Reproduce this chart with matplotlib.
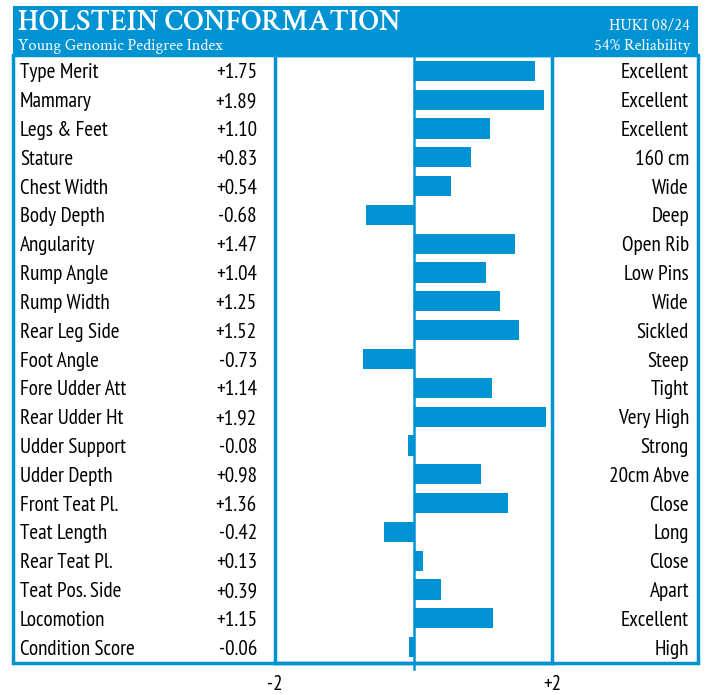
import matplotlib
matplotlib.use("Agg")
import matplotlib.pyplot as plt
from matplotlib import font_manager
from matplotlib.transforms import blended_transform_factory

# trait data
traits = ["Type Merit", "Mammary", "Legs & Feet", "Stature", "Chest Width",
          "Body Depth", "Angularity", "Rump Angle", "Rump Width", "Rear Leg Side",
          "Foot Angle", "Fore Udder Att", "Rear Udder Ht", "Udder Support",
          "Udder Depth", "Front Teat Pl.", "Teat Length", "Rear Teat Pl.",
          "Teat Pos. Side", "Locomotion", "Condition Score"]
values = [1.75, 1.89, 1.10, 0.83, 0.54, -0.68, 1.47, 1.04, 1.25, 1.52,
          -0.73, 1.14, 1.92, -0.08, 0.98, 1.36, -0.42, 0.13, 0.39, 1.15, -0.06]
descriptors = ["Excellent", "Excellent", "Excellent", "160 cm", "Wide", "Deep",
               "Open Rib", "Low Pins", "Wide", "Sickled", "Steep", "Tight",
               "Very High", "Strong", "20cm Abve", "Close", "Long", "Close",
               "Apart", "Excellent", "High"]
axis_ticks = [-2, 2]
axis_labels = ["-2", "+2"]

blue = "#0093d3"
W, H = 705, 695

names = {f.name for f in font_manager.fontManager.ttflist}
narrow = "PT Sans Narrow" if "PT Sans Narrow" in names else "DejaVu Sans"
serif = "Crimson Text" if "Crimson Text" in names else "Liberation Serif"

fig = plt.figure(figsize=(W / 100, H / 100), dpi=100)


def fx(px):
    return px / W


def fy(py):
    return 1 - py / H


# outer frame + header band
left, right, top, head_bot, bottom = 13, 698, 6, 55, 663
fig.patches.append(plt.Rectangle((fx(left), fy(head_bot)), fx(right - left),
                                 (head_bot - top) / H, transform=fig.transFigure,
                                 facecolor=blue, edgecolor="none"))
fig.patches.append(plt.Rectangle((fx(left), fy(bottom)), fx(right - left),
                                 (bottom - head_bot) / H, transform=fig.transFigure,
                                 facecolor="none", edgecolor=blue, linewidth=2.5))

fig.text(fx(18), fy(23), "HOLSTEIN CONFORMATION", color="white", family=serif,
         fontsize=21.5, fontweight="semibold", va="center", ha="left")
fig.text(fx(18), fy(46), "Young Genomic Pedigree Index", color="white",
         family=serif, fontsize=11.8, va="center", ha="left")
fig.text(fx(690), fy(26), "HUKI 08/24", color="white", family=serif,
         fontsize=11.8, va="center", ha="right")
fig.text(fx(690), fy(46), "54% Reliability", color="white", family=serif,
         fontsize=11.8, va="center", ha="right")

# bar panel between -2 and +2
x0, x1 = 275, 552
ax = fig.add_axes([fx(x0), fy(bottom), fx(x1 - x0), (bottom - head_bot) / H])
n = len(traits)
ypos = list(range(n))
ax.barh(ypos, values, height=0.7, color=blue, zorder=2)
ax.set_xlim(-2, 2)
ax.set_ylim(n - 0.45, -0.55)
ax.axvline(0, color=blue, linewidth=1.8, zorder=3)
for s in ax.spines.values():
    s.set_color(blue)
    s.set_linewidth(2.5)
ax.set_yticks([])
ax.set_xticks(axis_ticks)
ax.set_xticklabels(axis_labels, family=narrow, fontsize=15)
ax.tick_params(axis="x", length=0, pad=9)
# small tick at zero below the panel
ax.plot([0, 0], [n - 0.45, n - 0.25], color=blue, linewidth=1.8, clip_on=False)

# row texts
tr = blended_transform_factory(fig.transFigure, ax.transData)
for i in range(n):
    ax.text(fx(20), i, traits[i], transform=tr, family=narrow,
            fontsize=15.2, va="center_baseline", ha="left", clip_on=False)
    ax.text(fx(257), i, f"{values[i]:+.2f}", transform=tr, family=narrow,
            fontsize=15.2, va="center_baseline", ha="right", clip_on=False)
    ax.text(fx(689), i, descriptors[i], transform=tr, family=narrow,
            fontsize=15.2, va="center_baseline", ha="right", clip_on=False)

fig.savefig("out.png", dpi=100)
